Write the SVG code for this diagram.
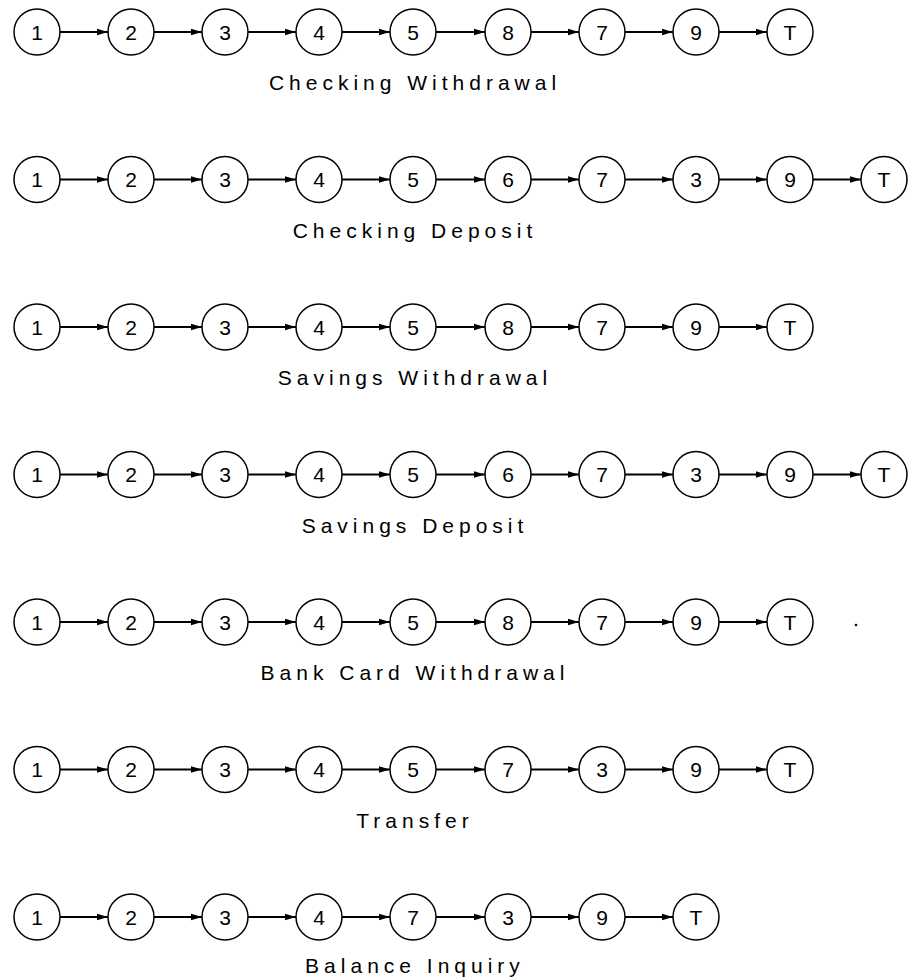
<svg xmlns="http://www.w3.org/2000/svg" width="908" height="980" viewBox="0 0 908 980">
<style>
.n circle{fill:#fff;stroke:#000;stroke-width:1.5}
.n text{font-family:"Liberation Sans",Arial,sans-serif;font-size:21px;text-anchor:middle;fill:#000}
.lbl{font-family:"Liberation Sans",Arial,sans-serif;font-size:21px;letter-spacing:5px;text-anchor:middle;fill:#000}
.c line{stroke:#000;stroke-width:2.2;marker-end:url(#ah)}
</style>
<defs>
<marker id="ah" markerUnits="userSpaceOnUse" markerWidth="12" markerHeight="8" refX="11" refY="4" orient="auto"><path d="M0,0.8 L11,4 L0,7.2 z" fill="#000"/></marker>
</defs>
<rect width="908" height="980" fill="#fff"/>
<g id="connectors" class="c">
<line x1="60" y1="32" x2="108" y2="32"/><line x1="154" y1="32" x2="202" y2="32"/><line x1="248" y1="32" x2="296" y2="32"/><line x1="342" y1="32" x2="390" y2="32"/><line x1="436" y1="32" x2="485" y2="32"/><line x1="531" y1="32" x2="579" y2="32"/><line x1="625" y1="32" x2="673" y2="32"/><line x1="719" y1="32" x2="767" y2="32"/>
<line x1="60" y1="179.5" x2="108" y2="179.5"/><line x1="154" y1="179.5" x2="202" y2="179.5"/><line x1="248" y1="179.5" x2="296" y2="179.5"/><line x1="342" y1="179.5" x2="390" y2="179.5"/><line x1="436" y1="179.5" x2="485" y2="179.5"/><line x1="531" y1="179.5" x2="579" y2="179.5"/><line x1="625" y1="179.5" x2="673" y2="179.5"/><line x1="719" y1="179.5" x2="767" y2="179.5"/><line x1="813" y1="179.5" x2="861" y2="179.5"/>
<line x1="60" y1="327" x2="108" y2="327"/><line x1="154" y1="327" x2="202" y2="327"/><line x1="248" y1="327" x2="296" y2="327"/><line x1="342" y1="327" x2="390" y2="327"/><line x1="436" y1="327" x2="485" y2="327"/><line x1="531" y1="327" x2="579" y2="327"/><line x1="625" y1="327" x2="673" y2="327"/><line x1="719" y1="327" x2="767" y2="327"/>
<line x1="60" y1="474.5" x2="108" y2="474.5"/><line x1="154" y1="474.5" x2="202" y2="474.5"/><line x1="248" y1="474.5" x2="296" y2="474.5"/><line x1="342" y1="474.5" x2="390" y2="474.5"/><line x1="436" y1="474.5" x2="485" y2="474.5"/><line x1="531" y1="474.5" x2="579" y2="474.5"/><line x1="625" y1="474.5" x2="673" y2="474.5"/><line x1="719" y1="474.5" x2="767" y2="474.5"/><line x1="813" y1="474.5" x2="861" y2="474.5"/>
<line x1="60" y1="622" x2="108" y2="622"/><line x1="154" y1="622" x2="202" y2="622"/><line x1="248" y1="622" x2="296" y2="622"/><line x1="342" y1="622" x2="390" y2="622"/><line x1="436" y1="622" x2="485" y2="622"/><line x1="531" y1="622" x2="579" y2="622"/><line x1="625" y1="622" x2="673" y2="622"/><line x1="719" y1="622" x2="767" y2="622"/>
<line x1="60" y1="769.5" x2="108" y2="769.5"/><line x1="154" y1="769.5" x2="202" y2="769.5"/><line x1="248" y1="769.5" x2="296" y2="769.5"/><line x1="342" y1="769.5" x2="390" y2="769.5"/><line x1="436" y1="769.5" x2="485" y2="769.5"/><line x1="531" y1="769.5" x2="579" y2="769.5"/><line x1="625" y1="769.5" x2="673" y2="769.5"/><line x1="719" y1="769.5" x2="767" y2="769.5"/>
<line x1="60" y1="917" x2="108" y2="917"/><line x1="154" y1="917" x2="202" y2="917"/><line x1="248" y1="917" x2="296" y2="917"/><line x1="342" y1="917" x2="390" y2="917"/><line x1="436" y1="917" x2="485" y2="917"/><line x1="531" y1="917" x2="579" y2="917"/><line x1="625" y1="917" x2="673" y2="917"/>
</g>
<g id="row1">
<g id="r1n1" class="n"><circle cx="37" cy="32" r="23"/><text x="37" y="39.5">1</text></g>
<g id="r1n2" class="n"><circle cx="131" cy="32" r="23"/><text x="131" y="39.5">2</text></g>
<g id="r1n3" class="n"><circle cx="225" cy="32" r="23"/><text x="225" y="39.5">3</text></g>
<g id="r1n4" class="n"><circle cx="319" cy="32" r="23"/><text x="319" y="39.5">4</text></g>
<g id="r1n5" class="n"><circle cx="413" cy="32" r="23"/><text x="413" y="39.5">5</text></g>
<g id="r1n6" class="n"><circle cx="508" cy="32" r="23"/><text x="508" y="39.5">8</text></g>
<g id="r1n7" class="n"><circle cx="602" cy="32" r="23"/><text x="602" y="39.5">7</text></g>
<g id="r1n8" class="n"><circle cx="696" cy="32" r="23"/><text x="696" y="39.5">9</text></g>
<g id="r1n9" class="n"><circle cx="790" cy="32" r="23"/><text x="790" y="39.5">T</text></g>
<text id="r1label" class="lbl" x="415" y="90">Checking Withdrawal</text>
</g>
<g id="row2">
<g id="r2n1" class="n"><circle cx="37" cy="179.5" r="23"/><text x="37" y="187">1</text></g>
<g id="r2n2" class="n"><circle cx="131" cy="179.5" r="23"/><text x="131" y="187">2</text></g>
<g id="r2n3" class="n"><circle cx="225" cy="179.5" r="23"/><text x="225" y="187">3</text></g>
<g id="r2n4" class="n"><circle cx="319" cy="179.5" r="23"/><text x="319" y="187">4</text></g>
<g id="r2n5" class="n"><circle cx="413" cy="179.5" r="23"/><text x="413" y="187">5</text></g>
<g id="r2n6" class="n"><circle cx="508" cy="179.5" r="23"/><text x="508" y="187">6</text></g>
<g id="r2n7" class="n"><circle cx="602" cy="179.5" r="23"/><text x="602" y="187">7</text></g>
<g id="r2n8" class="n"><circle cx="696" cy="179.5" r="23"/><text x="696" y="187">3</text></g>
<g id="r2n9" class="n"><circle cx="790" cy="179.5" r="23"/><text x="790" y="187">9</text></g>
<g id="r2n10" class="n"><circle cx="884" cy="179.5" r="23"/><text x="884" y="187">T</text></g>
<text id="r2label" class="lbl" x="415" y="237.5">Checking Deposit</text>
</g>
<g id="row3">
<g id="r3n1" class="n"><circle cx="37" cy="327" r="23"/><text x="37" y="334.5">1</text></g>
<g id="r3n2" class="n"><circle cx="131" cy="327" r="23"/><text x="131" y="334.5">2</text></g>
<g id="r3n3" class="n"><circle cx="225" cy="327" r="23"/><text x="225" y="334.5">3</text></g>
<g id="r3n4" class="n"><circle cx="319" cy="327" r="23"/><text x="319" y="334.5">4</text></g>
<g id="r3n5" class="n"><circle cx="413" cy="327" r="23"/><text x="413" y="334.5">5</text></g>
<g id="r3n6" class="n"><circle cx="508" cy="327" r="23"/><text x="508" y="334.5">8</text></g>
<g id="r3n7" class="n"><circle cx="602" cy="327" r="23"/><text x="602" y="334.5">7</text></g>
<g id="r3n8" class="n"><circle cx="696" cy="327" r="23"/><text x="696" y="334.5">9</text></g>
<g id="r3n9" class="n"><circle cx="790" cy="327" r="23"/><text x="790" y="334.5">T</text></g>
<text id="r3label" class="lbl" x="415" y="385">Savings Withdrawal</text>
</g>
<g id="row4">
<g id="r4n1" class="n"><circle cx="37" cy="474.5" r="23"/><text x="37" y="482">1</text></g>
<g id="r4n2" class="n"><circle cx="131" cy="474.5" r="23"/><text x="131" y="482">2</text></g>
<g id="r4n3" class="n"><circle cx="225" cy="474.5" r="23"/><text x="225" y="482">3</text></g>
<g id="r4n4" class="n"><circle cx="319" cy="474.5" r="23"/><text x="319" y="482">4</text></g>
<g id="r4n5" class="n"><circle cx="413" cy="474.5" r="23"/><text x="413" y="482">5</text></g>
<g id="r4n6" class="n"><circle cx="508" cy="474.5" r="23"/><text x="508" y="482">6</text></g>
<g id="r4n7" class="n"><circle cx="602" cy="474.5" r="23"/><text x="602" y="482">7</text></g>
<g id="r4n8" class="n"><circle cx="696" cy="474.5" r="23"/><text x="696" y="482">3</text></g>
<g id="r4n9" class="n"><circle cx="790" cy="474.5" r="23"/><text x="790" y="482">9</text></g>
<g id="r4n10" class="n"><circle cx="884" cy="474.5" r="23"/><text x="884" y="482">T</text></g>
<text id="r4label" class="lbl" x="415" y="532.5">Savings Deposit</text>
</g>
<g id="row5">
<g id="r5n1" class="n"><circle cx="37" cy="622" r="23"/><text x="37" y="629.5">1</text></g>
<g id="r5n2" class="n"><circle cx="131" cy="622" r="23"/><text x="131" y="629.5">2</text></g>
<g id="r5n3" class="n"><circle cx="225" cy="622" r="23"/><text x="225" y="629.5">3</text></g>
<g id="r5n4" class="n"><circle cx="319" cy="622" r="23"/><text x="319" y="629.5">4</text></g>
<g id="r5n5" class="n"><circle cx="413" cy="622" r="23"/><text x="413" y="629.5">5</text></g>
<g id="r5n6" class="n"><circle cx="508" cy="622" r="23"/><text x="508" y="629.5">8</text></g>
<g id="r5n7" class="n"><circle cx="602" cy="622" r="23"/><text x="602" y="629.5">7</text></g>
<g id="r5n8" class="n"><circle cx="696" cy="622" r="23"/><text x="696" y="629.5">9</text></g>
<g id="r5n9" class="n"><circle cx="790" cy="622" r="23"/><text x="790" y="629.5">T</text></g>
<text id="r5label" class="lbl" x="415" y="680">Bank Card Withdrawal</text>
</g>
<g id="row6">
<g id="r6n1" class="n"><circle cx="37" cy="769.5" r="23"/><text x="37" y="777">1</text></g>
<g id="r6n2" class="n"><circle cx="131" cy="769.5" r="23"/><text x="131" y="777">2</text></g>
<g id="r6n3" class="n"><circle cx="225" cy="769.5" r="23"/><text x="225" y="777">3</text></g>
<g id="r6n4" class="n"><circle cx="319" cy="769.5" r="23"/><text x="319" y="777">4</text></g>
<g id="r6n5" class="n"><circle cx="413" cy="769.5" r="23"/><text x="413" y="777">5</text></g>
<g id="r6n6" class="n"><circle cx="508" cy="769.5" r="23"/><text x="508" y="777">7</text></g>
<g id="r6n7" class="n"><circle cx="602" cy="769.5" r="23"/><text x="602" y="777">3</text></g>
<g id="r6n8" class="n"><circle cx="696" cy="769.5" r="23"/><text x="696" y="777">9</text></g>
<g id="r6n9" class="n"><circle cx="790" cy="769.5" r="23"/><text x="790" y="777">T</text></g>
<text id="r6label" class="lbl" x="415" y="827.5">Transfer</text>
</g>
<g id="row7">
<g id="r7n1" class="n"><circle cx="37" cy="917" r="23"/><text x="37" y="924.5">1</text></g>
<g id="r7n2" class="n"><circle cx="131" cy="917" r="23"/><text x="131" y="924.5">2</text></g>
<g id="r7n3" class="n"><circle cx="225" cy="917" r="23"/><text x="225" y="924.5">3</text></g>
<g id="r7n4" class="n"><circle cx="319" cy="917" r="23"/><text x="319" y="924.5">4</text></g>
<g id="r7n5" class="n"><circle cx="413" cy="917" r="23"/><text x="413" y="924.5">7</text></g>
<g id="r7n6" class="n"><circle cx="508" cy="917" r="23"/><text x="508" y="924.5">3</text></g>
<g id="r7n7" class="n"><circle cx="602" cy="917" r="23"/><text x="602" y="924.5">9</text></g>
<g id="r7n8" class="n"><circle cx="696" cy="917" r="23"/><text x="696" y="924.5">T</text></g>
<text id="r7label" class="lbl" x="415" y="973">Balance Inquiry</text>
</g>
<circle cx="856" cy="625" r="1.3" fill="#000"/>
</svg>
